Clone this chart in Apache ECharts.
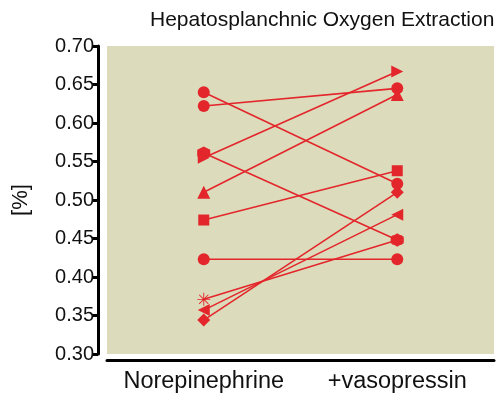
<!DOCTYPE html>
<html><head><meta charset="utf-8">
<script src="https://cdn.jsdelivr.net/npm/echarts@6/dist/echarts.min.js"></script>
<style>html,body{margin:0;padding:0;background:#fff}#c{width:503px;height:400px}</style>
</head><body><div id="c"></div>
<script>
const categories = ['Norepinephrine', '+vasopressin'];
const norepinephrine = [0.640, 0.622, 0.561, 0.555, 0.510, 0.474, 0.423, 0.371, 0.357, 0.344];
const vasopressin   = [0.521, 0.645, 0.448, 0.667, 0.637, 0.538, 0.423, 0.448, 0.481, 0.510];
const yTicks = [0.30, 0.35, 0.40, 0.45, 0.50, 0.55, 0.60, 0.65, 0.70];

const HEX = 'path://M5,0 L9.33,2.5 L9.33,7.5 L5,10 L0.67,7.5 L0.67,2.5 Z';
const TRI_R = 'path://M0,0 L10,5 L0,10 Z';
const TRI_L = 'path://M10,0 L0,5 L10,10 Z';
function bar(a){const c=Math.cos(a),s=Math.sin(a),w=0.7,l=10;
  const p=[[-l,-w],[l,-w],[l,w],[-l,w]].map(([x,y])=>[(x*c-y*s).toFixed(2),(x*s+y*c).toFixed(2)]);
  return 'M'+p[0].join(',')+' L'+p[1].join(',')+' L'+p[2].join(',')+' L'+p[3].join(',')+' Z';}
const STAR = 'path://'+[0,45,90,135].map(d=>bar(d*Math.PI/180)).join(' ');
const symbols = ['circle','circle',HEX,TRI_R,'triangle','rect','circle',STAR,TRI_L,'diamond'];
const sizes   = [12,12,13,12,13,11,12,13,12,13];
const red = '#e3262b';

const series = norepinephrine.map((v,i)=>({
  type:'line', data:[v, vasopressin[i]], symbol:symbols[i], symbolSize:sizes[i],
  showSymbol:true, animation:false,
  lineStyle:{color:red,width:1.6}, itemStyle:{color:red,borderWidth:0}
}));

const chart = echarts.init(document.getElementById('c'), null, {renderer:'canvas'});
chart.setOption({
  animation:false,
  title:{text:'Hepatosplanchnic Oxygen Extraction', left:145, top:5,
    textStyle:{fontFamily:'Liberation Sans, Arial, sans-serif', fontSize:21, fontWeight:'normal', color:'#111'}},
  grid:{left:107, right:9, top:46, bottom:46, show:true, backgroundColor:'#dcdcbc', borderWidth:0},
  xAxis:{type:'category', data:categories, boundaryGap:true, offset:6,
    axisLine:{lineStyle:{color:'#000', width:3}},
    axisTick:{alignWithLabel:true, length:6, lineStyle:{width:3,color:'#000'}},
    axisLabel:{interval:0, hideOverlap:false, fontFamily:'Liberation Sans, Arial, sans-serif', fontSize:23.5, color:'#111', margin:10},
    splitLine:{show:false}},
  yAxis:{type:'value', min:yTicks[0], max:yTicks[yTicks.length-1], interval:0.05, offset:9,
    name:'[%]', nameLocation:'middle', nameRotate:90, nameGap:66,
    nameTextStyle:{fontFamily:'Liberation Sans, Arial, sans-serif', fontSize:22, color:'#111'},
    axisLine:{show:true, lineStyle:{color:'#000', width:3}},
    axisTick:{show:true, length:6, lineStyle:{width:3,color:'#000'}},
    axisLabel:{fontFamily:'Liberation Sans, Arial, sans-serif', fontSize:20, color:'#111', margin:4,
      formatter:v=>v.toFixed(2)},
    splitLine:{show:false}},
  series: series
});
</script></body></html>
